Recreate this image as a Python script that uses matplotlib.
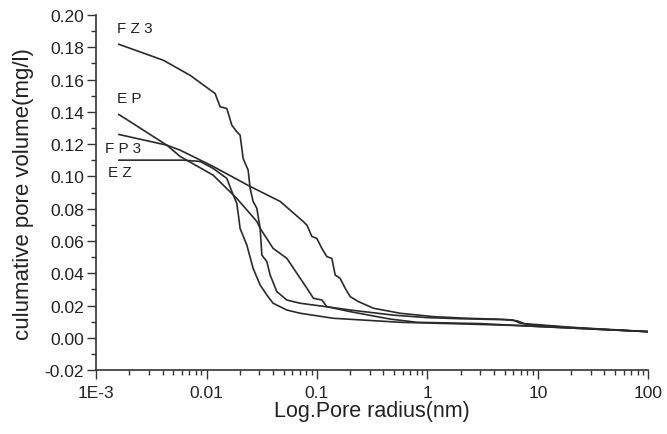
import matplotlib
matplotlib.use("Agg")
import matplotlib.pyplot as plt
from matplotlib.ticker import FixedLocator, LogLocator, MultipleLocator, FormatStrFormatter, NullFormatter

plt.rcParams.update({
    "font.family": ["Liberation Sans", "DejaVu Sans"],
    "axes.spines.top": False,
    "axes.spines.right": False,
})

# Curves (pore radius nm, cumulative volume mg/l)
fz3_x = [0.00161, 0.00407, 0.0071, 0.01196, 0.01328, 0.01527, 0.01695, 0.0188, 0.02014,
         0.02147, 0.02382, 0.02484, 0.02643, 0.02856, 0.0306, 0.0317, 0.03518, 0.03769,
         0.04333, 0.05337, 0.07046, 0.1403, 0.2, 0.5, 1.0, 2.0, 5.0, 6.5, 7.5, 20.0, 100.0]
fz3_y = [0.1819, 0.1720, 0.1627, 0.1514, 0.1432, 0.1421, 0.1318, 0.1277, 0.1256,
         0.1111, 0.1039, 0.0926, 0.0845, 0.0802, 0.0678, 0.0513, 0.0472, 0.0389,
         0.0286, 0.0234, 0.0214, 0.0187, 0.0172, 0.0140, 0.0125, 0.0118, 0.0112, 0.0105, 0.0088, 0.0065, 0.0038]

ep_x = [0.00161, 0.00437, 0.00577, 0.01148, 0.0188, 0.02856, 0.0306, 0.0401, 0.0534,
        0.0811, 0.0929, 0.1107, 0.123, 0.2, 0.46, 0.804, 3.0, 10.0, 100.0]
ep_y = [0.1384, 0.1194, 0.1124, 0.1008, 0.0864, 0.0721, 0.0678, 0.0554, 0.0492,
        0.0307, 0.0245, 0.0234, 0.0193, 0.0162, 0.0116, 0.0096, 0.0088, 0.0070, 0.0038]

fp3_x = [0.00161, 0.00437, 0.00577, 0.01148, 0.02484, 0.04645, 0.075, 0.0811, 0.09, 0.0997,
         0.1107, 0.123, 0.1364, 0.1462, 0.1622, 0.18, 0.2, 0.2377, 0.325, 0.567, 1.135,
         2.28, 4.56, 5.98, 6.93, 9.08, 18.4, 36.7, 100.0]
fp3_y = [0.1260, 0.1194, 0.1163, 0.1062, 0.0938, 0.0845, 0.0721, 0.0698, 0.0628, 0.0616,
         0.0554, 0.0503, 0.0492, 0.0389, 0.0368, 0.0307, 0.0255, 0.0224, 0.0183, 0.0152, 0.0131,
         0.0121, 0.0115, 0.0110, 0.0090, 0.0079, 0.0065, 0.0053, 0.0038]

ez_x = [0.00161, 0.00614, 0.00875, 0.01148, 0.01527, 0.01695, 0.0188, 0.01945, 0.02014,
        0.02317, 0.02643, 0.0306, 0.03518, 0.04009, 0.05337, 0.0705, 0.1403, 0.567,
        2.28, 6.47, 100.0]
ez_y = [0.1101, 0.1101, 0.1093, 0.1050, 0.0988, 0.0907, 0.0833, 0.0760, 0.0678,
        0.0575, 0.0430, 0.0327, 0.0265, 0.0214, 0.0172, 0.0152, 0.0121, 0.0096,
        0.0085, 0.0076, 0.0038]

x_ticks = [1e-3, 1e-2, 1e-1, 1, 10, 100]
x_tick_labels = ["1E-3", "0.01", "0.1", "1", "10", "100"]

fig = plt.figure(figsize=(6.67, 4.35), dpi=100)
ax = fig.add_axes([0.144, 0.147, 0.828, 0.816])

line_kw = dict(color="#2b2b2b", linewidth=1.2)
ax.plot(fz3_x, fz3_y, **line_kw)
ax.plot(ep_x, ep_y, **line_kw)
ax.plot(fp3_x, fp3_y, **line_kw)
ax.plot(ez_x, ez_y, **line_kw)

# curve labels
lab_kw = dict(fontsize=11, ha="left", va="baseline", color="#222222")
ax.text(0.00155, 0.1898, "F Z 3", **lab_kw)
ax.text(0.00155, 0.1464, "E P", **lab_kw)
ax.text(0.00121, 0.1149, "F P 3", **lab_kw)
ax.text(0.00129, 0.1000, "E Z", **lab_kw)

ax.set_xscale("log")
ax.set_xlim(1e-3, 100)
ax.set_ylim(-0.02, 0.20)
ax.xaxis.set_major_locator(FixedLocator(x_ticks))
ax.set_xticklabels(x_tick_labels)
ax.xaxis.set_minor_locator(LogLocator(base=10, subs=range(2, 10)))
ax.xaxis.set_minor_formatter(NullFormatter())
ax.yaxis.set_major_locator(MultipleLocator(0.02))
ax.yaxis.set_minor_locator(MultipleLocator(0.01))
ax.yaxis.set_major_formatter(FormatStrFormatter("%.2f"))

for s in ("left", "bottom"):
    ax.spines[s].set_linewidth(1.2)
    ax.spines[s].set_color("#333333")
ax.tick_params(which="major", direction="out", length=6.5, width=1.0, labelsize=12.5, colors="#333333")
ax.tick_params(which="minor", direction="out", length=3.5, width=1.0, colors="#333333")
ax.tick_params(axis="y", which="major", pad=2)
ax.tick_params(axis="x", which="major", pad=4.5)
ax.tick_params(labelcolor="#222222")

ax.set_xlabel("Log.Pore radius(nm)", fontsize=15.5, color="#222222")
ax.set_ylabel("culumative pore volume(mg/l)", fontsize=16, color="#222222")
ax.xaxis.set_label_coords(0.5, -0.083)
ax.yaxis.set_label_coords(-0.112, 0.5)

fig.savefig("out.png", dpi=100, facecolor="white")
